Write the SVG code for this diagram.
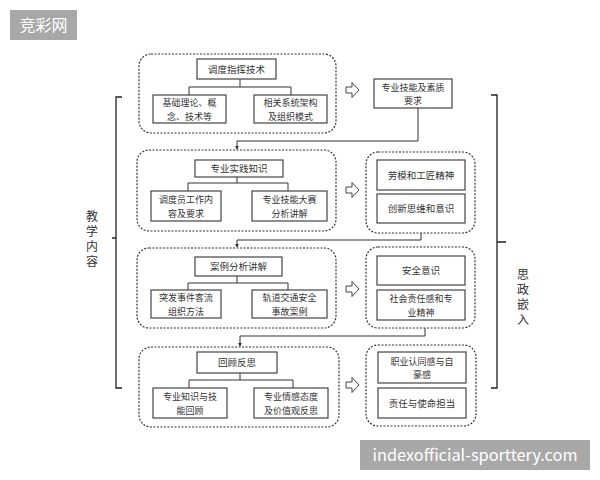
<svg xmlns="http://www.w3.org/2000/svg" width="600" height="480" viewBox="0 0 600 480">
<defs>
<style>
.box{fill:#fff;stroke:#444;stroke-width:1.2}
.grp{fill:none;stroke:#333;stroke-width:1.2;stroke-dasharray:2,1.5}
.ln{fill:none;stroke:#333;stroke-width:1}
.br{fill:none;stroke:#222;stroke-width:1.3}
.t{font-family:"Noto Sans CJK SC",sans-serif;font-size:9.5px;fill:#333;text-anchor:middle}
.t2{font-family:"Noto Sans CJK SC",sans-serif;font-size:9px;fill:#333;text-anchor:middle}
.v{font-family:"Noto Sans CJK SC",sans-serif;font-size:12px;fill:#333;writing-mode:tb;letter-spacing:3px}
.ha{fill:#fff;stroke:#444;stroke-width:1}
.wm{font-family:"Noto Sans CJK SC",sans-serif;fill:#fff}
</style>
<marker id="ah" viewBox="0 0 6 6" refX="5" refY="3" markerWidth="4" markerHeight="4" orient="auto"><path d="M0,0L6,3L0,6z" fill="#333"/></marker>
<path id="harrow" d="M-6,-3h6v-4.5l7,7.5l-7,7.5v-4.5h-6z"/>
</defs>
<rect width="600" height="480" fill="#fff"/>

<g id="connectors">
<path class="ln" d="M240,79V87M189,95V87H291V95"/>
<path class="ln" d="M237,177V183M188,191V183H288V191"/>
<path class="ln" d="M237,276V283M188,290V283H288V290"/>
<path class="ln" d="M240,373V380M189,388V380H293V388"/>
<path class="ln" d="M418,108V141H237V149" marker-end="url(#ah)"/>
<path class="ln" d="M421,233V240H237V247" marker-end="url(#ah)"/>
<path class="ln" d="M425,328V336H240V346" marker-end="url(#ah)"/>
<use href="#harrow" class="ha" x="352" y="90"/>
<use href="#harrow" class="ha" x="352" y="190"/>
<use href="#harrow" class="ha" x="352" y="289"/>
<use href="#harrow" class="ha" x="352" y="385"/>
</g>

<g id="bracket-left">
<path class="br" d="M122,97H116V388H122M116,238H112"/>
<text class="v" x="92" y="210">教学内容</text>
</g>
<g id="bracket-right">
<path class="br" d="M491,95H497V388H491M497,242H506"/>
<text class="v" x="523" y="268">思政嵌入</text>
</g>

<g id="group1">
<rect class="grp" x="139" y="54" width="197" height="79" rx="12"/>
<g id="n-ddzh"><rect class="box" x="197" y="59" width="79" height="20"/><text class="t" x="236.5" y="72.5">调度指挥技术</text></g>
<g id="n-jcll"><rect class="box" x="153" y="95" width="73" height="28"/><text class="t2" x="189.5" y="106">基础理论、概</text><text class="t2" x="189.5" y="119.5">念、技术等</text></g>
<g id="n-xgxt"><rect class="box" x="254" y="95" width="73" height="28"/><text class="t2" x="290.5" y="106">相关系统架构</text><text class="t2" x="290.5" y="119.5">及组织模式</text></g>
</g>
<g id="n-zyjn"><rect class="box" x="374" y="79" width="78" height="29"/><text class="t2" x="413" y="90.5">专业技能及素质</text><text class="t2" x="413" y="104">要求</text></g>

<g id="group2">
<rect class="grp" x="137" y="150" width="199" height="81" rx="12"/>
<g id="n-zysj"><rect class="box" x="195" y="160" width="88" height="17"/><text class="t" x="239" y="171.5">专业实践知识</text></g>
<g id="n-ddy"><rect class="box" x="151" y="191" width="70" height="30"/><text class="t2" x="186" y="203">调度员工作内</text><text class="t2" x="186" y="216.5">容及要求</text></g>
<g id="n-zyds"><rect class="box" x="252" y="191" width="75" height="30"/><text class="t2" x="289.5" y="203">专业技能大赛</text><text class="t2" x="289.5" y="216.5">分析讲解</text></g>
</g>
<g id="group2r">
<rect class="grp" x="366" y="152" width="109" height="81" rx="12"/>
<g id="n-lm"><rect class="box" x="377" y="160" width="88" height="30"/><text class="t" x="421" y="178.5">劳模和工匠精神</text></g>
<g id="n-cx"><rect class="box" x="377" y="194" width="88" height="29"/><text class="t" x="421" y="212">创新思维和意识</text></g>
</g>

<g id="group3">
<rect class="grp" x="137" y="248" width="199" height="80" rx="12"/>
<g id="n-alfx"><rect class="box" x="195" y="257" width="87" height="19"/><text class="t" x="238.5" y="270">案例分析讲解</text></g>
<g id="n-tfsj"><rect class="box" x="151" y="290" width="70" height="28"/><text class="t2" x="186" y="301">突发事件客流</text><text class="t2" x="186" y="314.5">组织方法</text></g>
<g id="n-gdjt"><rect class="box" x="252" y="290" width="75" height="28"/><text class="t2" x="289.5" y="301">轨道交通安全</text><text class="t2" x="289.5" y="314.5">事故案例</text></g>
</g>
<g id="group3r">
<rect class="grp" x="366" y="247" width="109" height="81" rx="12"/>
<g id="n-aq"><rect class="box" x="377" y="256" width="88" height="29"/><text class="t" x="421" y="274">安全意识</text></g>
<g id="n-shzr"><rect class="box" x="377" y="290" width="88" height="30"/><text class="t2" x="421" y="302">社会责任感和专</text><text class="t2" x="421" y="315.5">业精神</text></g>
</g>

<g id="group4">
<rect class="grp" x="139" y="347" width="200" height="80" rx="12"/>
<g id="n-hgfs"><rect class="box" x="197" y="352" width="80" height="21"/><text class="t" x="237" y="366">回顾反思</text></g>
<g id="n-zyzs"><rect class="box" x="153" y="388" width="74" height="30"/><text class="t2" x="190" y="400">专业知识与技</text><text class="t2" x="190" y="413.5">能回顾</text></g>
<g id="n-zyqg"><rect class="box" x="254" y="388" width="74" height="30"/><text class="t2" x="291" y="400">专业情感态度</text><text class="t2" x="291" y="413.5">及价值观反思</text></g>
</g>
<g id="group4r">
<rect class="grp" x="366" y="345" width="110" height="81" rx="12"/>
<g id="n-zyrt"><rect class="box" x="378" y="352" width="88" height="31"/><text class="t2" x="422" y="364.5">职业认同感与自</text><text class="t2" x="422" y="378">豪感</text></g>
<g id="n-zr"><rect class="box" x="378" y="388" width="88" height="30"/><text class="t" x="422" y="406.5">责任与使命担当</text></g>
</g>

<g id="watermarks">
<rect x="10" y="10" width="67" height="30" fill="#a8a8a8"/>
<text class="wm" x="43.5" y="31" font-size="16" text-anchor="middle">竞彩网</text>
<rect x="360" y="440" width="230" height="30" fill="#a8a8a8"/>
<text class="wm" x="475" y="461" font-size="16" text-anchor="middle" textLength="205" lengthAdjust="spacingAndGlyphs">indexofficial-sporttery.com</text>
</g>
</svg>
